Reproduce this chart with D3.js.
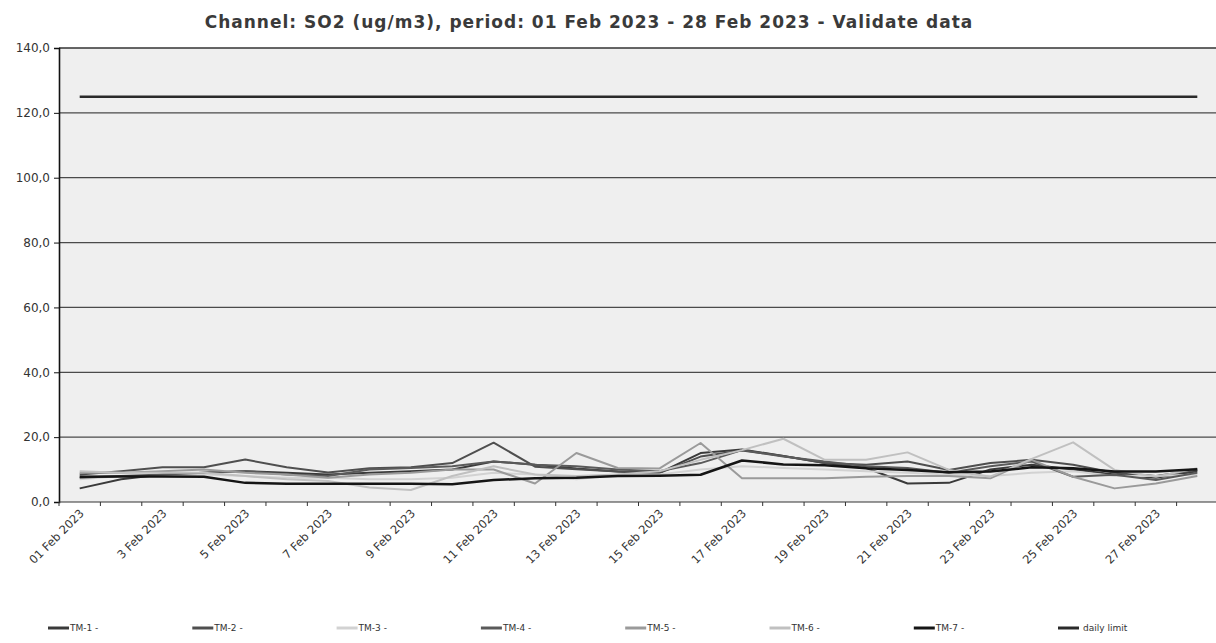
<!DOCTYPE html>
<html lang="en">
<head>
    <meta charset="UTF-8">
    <title>SO2 - Feb 2023</title>
    <script src="https://d3js.org/d3.v7.min.js"></script>
    <style>
        body { margin: 0; background: #fff; }
        svg { display: block; font-family: "DejaVu Sans", Verdana, sans-serif; }
        .title { font-family: "DejaVu Sans", sans-serif; font-weight: bold; fill: #3a3a3a; font-size: 17px; letter-spacing: 1px; }
        .tick text { fill: #333; }
    </style>
</head>
<body>
    <svg width="1216" height="643"></svg>
    <script>
        // one value per day, 1..28 Feb 2023
        const days = d3.range(1, 29);
        const dayLabels = days.map(d => (d === 1 ? "01" : d) + " Feb 2023");
        const yTicks = [0, 20, 40, 60, 80, 100, 120, 140];

        const tm1 = [4.2, 7.0, 8.5, 9.0, 9.5, 9.0, 8.5, 9.0, 9.5, 10.0, 12.5, 11.5, 10.3, 9.4, 9.0, 15.1, 16.2, 14.2, 12.0, 10.5, 5.7, 5.9, 10.0, 11.5, 10.0, 8.5, 7.5, 9.5];
        const tm2 = [8.5, 9.5, 10.7, 10.7, 13.1, 10.7, 9.1, 10.4, 10.7, 12.0, 18.3, 10.9, 10.1, 9.4, 8.9, 14.0, 15.9, 14.2, 12.0, 11.5, 12.5, 9.9, 12.0, 13.0, 11.5, 9.0, 8.0, 9.9];
        const tm3 = [7.0, 8.0, 8.0, 8.5, 8.0, 7.5, 7.5, 7.0, 7.0, 7.5, 9.0, 8.5, 7.0, 8.5, 8.5, 10.0, 11.0, 10.5, 10.0, 9.5, 9.0, 8.5, 8.0, 9.0, 9.5, 8.0, 8.0, 8.5];
        const tm4 = [7.5, 8.0, 8.5, 9.0, 9.5, 8.5, 8.0, 10.0, 10.5, 11.0, 12.5, 11.5, 11.0, 10.0, 9.5, 12.0, 16.0, 14.0, 12.5, 11.0, 10.5, 9.0, 11.0, 12.5, 7.8, 8.4, 6.8, 9.0];
        const tm5 = [9.0, 9.0, 9.5, 10.0, 9.0, 8.5, 7.5, 8.5, 9.0, 10.0, 10.0, 5.7, 15.1, 10.5, 10.3, 18.2, 7.3, 7.3, 7.3, 7.8, 8.0, 8.0, 7.3, 13.0, 7.8, 4.2, 5.7, 8.0];
        const tm6 = [9.5, 9.0, 9.0, 9.0, 8.0, 7.0, 6.5, 4.5, 3.7, 8.0, 11.0, 8.5, 8.0, 8.5, 9.5, 13.0, 16.0, 19.5, 13.0, 13.0, 15.3, 9.9, 7.8, 13.3, 18.4, 9.9, 7.8, 10.4];
        const tm7 = [7.8, 7.9, 7.9, 7.8, 5.9, 5.6, 5.6, 5.6, 5.6, 5.5, 6.8, 7.3, 7.5, 8.0, 8.1, 8.4, 12.8, 11.6, 11.3, 10.4, 9.9, 9.2, 9.4, 10.7, 10.4, 9.4, 9.4, 10.1];
        const dailyLimit = days.map(() => 125);

        const series = [
            { name: "TM-1 -", values: tm1, color: "#3a3a3a", width: 2 },
            { name: "TM-2 -", values: tm2, color: "#4f4f4f", width: 2 },
            { name: "TM-3 -", values: tm3, color: "#d2d2d2", width: 2 },
            { name: "TM-4 -", values: tm4, color: "#5a5a5a", width: 2 },
            { name: "TM-5 -", values: tm5, color: "#9a9a9a", width: 2 },
            { name: "TM-6 -", values: tm6, color: "#c0c0c0", width: 2 },
            { name: "TM-7 -", values: tm7, color: "#151515", width: 2.5 },
            { name: "daily limit", values: dailyLimit, color: "#2a2a2a", width: 2.5 }
        ];

        const svg = d3.select("svg");
        const plotLeft = 59, plotRight = 1218, plotTop = 48, plotBottom = 502;

        const x = d3.scaleBand().domain(days).range([plotLeft, plotRight]);
        const y = d3.scaleLinear().domain([0, 140]).range([plotBottom, plotTop]);

        // plot background
        svg.append("rect")
            .attr("x", plotLeft).attr("y", plotTop)
            .attr("width", plotRight - plotLeft).attr("height", plotBottom - plotTop)
            .attr("fill", "#efefef");

        // horizontal grid
        svg.append("g")
            .selectAll("line")
            .data(yTicks.filter(t => t > 0))
            .enter().append("line")
            .attr("x1", plotLeft).attr("x2", plotRight)
            .attr("y1", d => y(d)).attr("y2", d => y(d))
            .attr("stroke", d => d === 140 ? "#333" : "#4a4a4a")
            .attr("stroke-width", d => d === 140 ? 1.6 : 1.2);

        // title
        svg.append("text")
            .attr("class", "title")
            .attr("x", 589).attr("y", 28)
            .attr("text-anchor", "middle")
            .text("Channel: SO2 (ug/m3), period: 01 Feb 2023 - 28 Feb 2023 - Validate data");

        // y axis
        const yAxis = svg.append("g")
            .attr("transform", `translate(${plotLeft},0)`)
            .call(d3.axisLeft(y).tickValues(yTicks).tickSize(5).tickPadding(4)
                .tickFormat(d => d3.format(".1f")(d).replace(".", ",")));
        yAxis.select(".domain").attr("stroke", "#111").attr("stroke-width", 1.6);
        yAxis.selectAll(".tick line").attr("stroke", "#111");
        yAxis.selectAll(".tick text")
            .style("font-family", "'DejaVu Sans', sans-serif")
            .style("font-size", "12px");

        // x axis: ticks on band edges, labels every other day
        const xAxisG = svg.append("g").attr("transform", `translate(0,${plotBottom})`);
        xAxisG.append("line")
            .attr("x1", plotLeft).attr("x2", plotRight)
            .attr("stroke", "#333").attr("stroke-width", 1.2);
        xAxisG.selectAll("line.tk")
            .data(days)
            .enter().append("line")
            .attr("class", "tk")
            .attr("x1", d => x(d)).attr("x2", d => x(d))
            .attr("y1", 0).attr("y2", 4)
            .attr("stroke", "#333");
        xAxisG.selectAll("text")
            .data(days.filter(d => d % 2 === 1))
            .enter().append("text")
            .attr("transform", d => `translate(${x(d) + x.bandwidth() / 2 + 5},${12}) rotate(-45)`)
            .attr("text-anchor", "end")
            .attr("fill", "#333")
            .style("font-size", "11.5px")
            .text(d => dayLabels[d - 1]);

        // lines
        const line = d3.line()
            .x((d, i) => x(days[i]) + x.bandwidth() / 2)
            .y(d => y(d));

        svg.append("g")
            .selectAll("path")
            .data(series)
            .enter().append("path")
            .attr("d", d => line(d.values))
            .attr("fill", "none")
            .attr("stroke", d => d.color)
            .attr("stroke-width", d => d.width)
            .attr("stroke-linejoin", "round");

        // legend
        const legend = svg.append("g")
            .selectAll("g")
            .data(series)
            .enter().append("g")
            .attr("transform", (d, i) => `translate(${i < 7 ? 48 + i * 144.3 : 1058},628)`);
        legend.append("line")
            .attr("x1", 0).attr("x2", 21)
            .attr("stroke", d => d.color)
            .attr("stroke-width", 3);
        legend.append("text")
            .attr("x", (d, i) => i < 7 ? 22 : 25)
            .attr("y", 3)
            .attr("fill", "#333")
            .style("font-size", "9px")
            .text(d => d.name);
    </script>
</body>
</html>
